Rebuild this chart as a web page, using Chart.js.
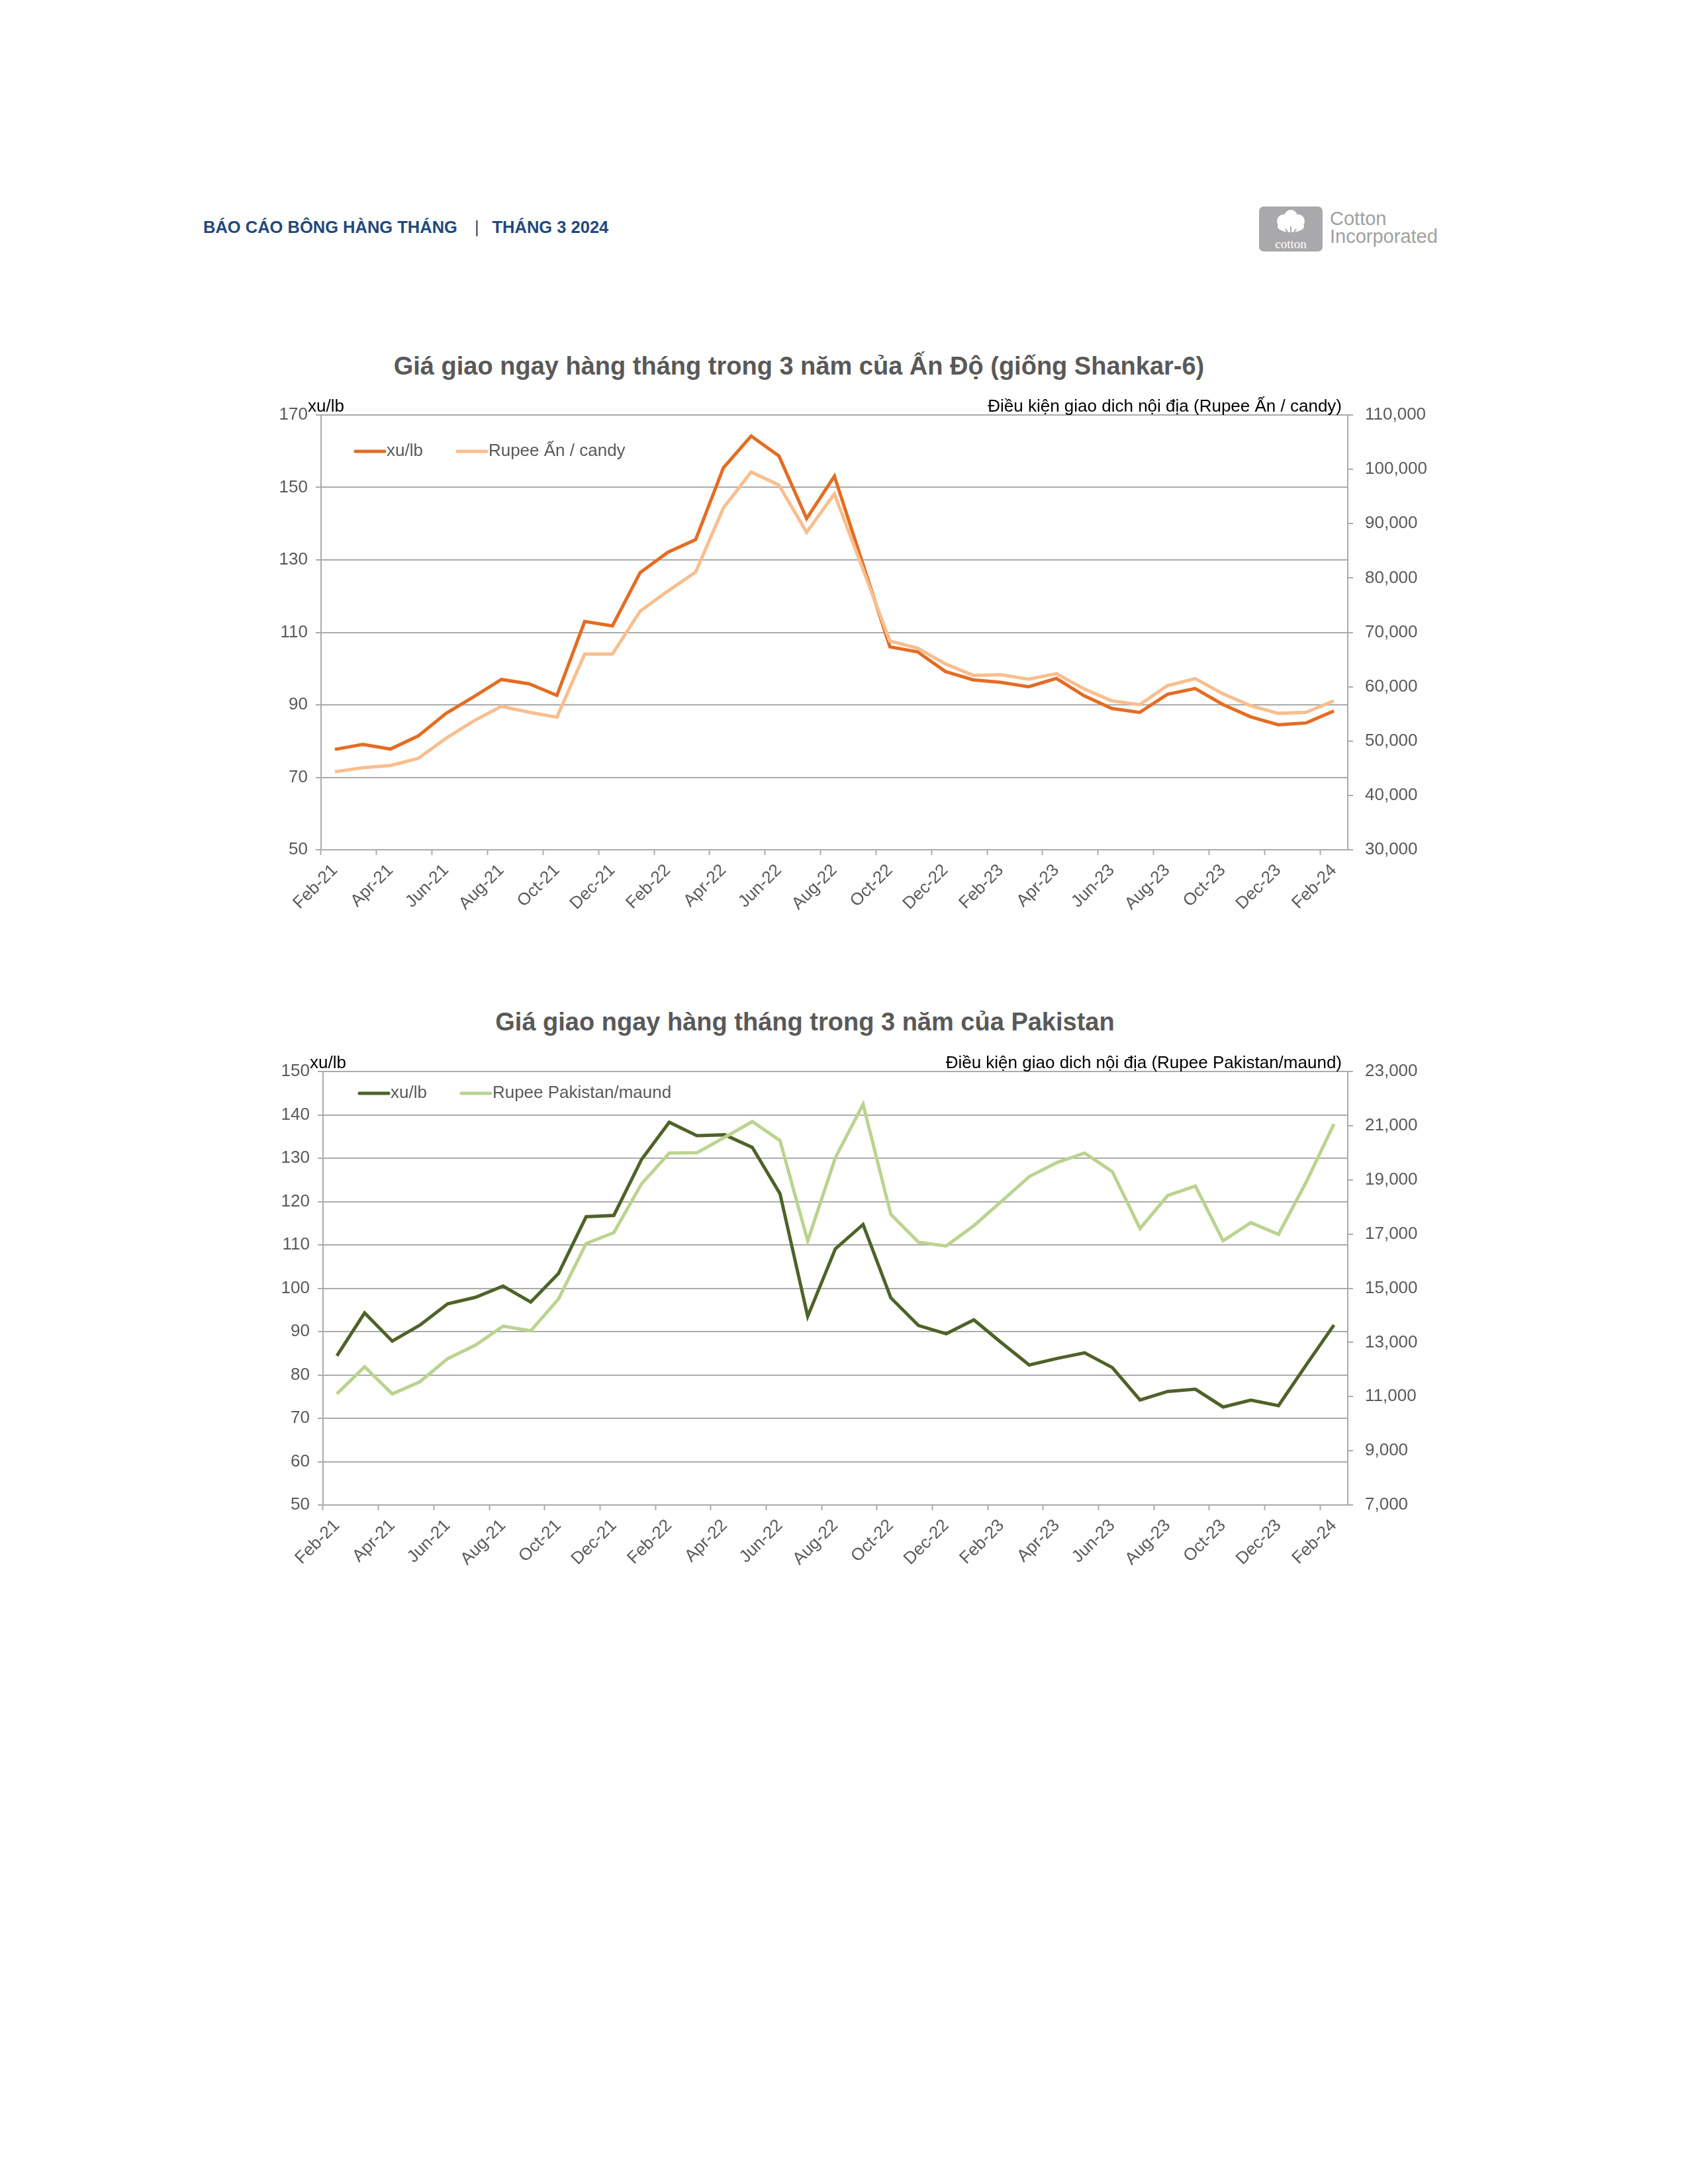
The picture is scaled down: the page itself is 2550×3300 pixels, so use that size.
<!DOCTYPE html>
<html lang="vi">
<head>
<meta charset="utf-8">
<title>Giá giao ngay hàng tháng – Ấn Độ &amp; Pakistan</title>
<script src="https://cdn.jsdelivr.net/npm/chart.js@4.4.1/dist/chart.umd.min.js"></script>
<style>
  html,body{margin:0;padding:0;background:#fff;}
  body{width:2550px;height:3300px;position:relative;font-family:'Liberation Sans',Arial,sans-serif;}
  .header{position:absolute;left:307px;top:329px;font-size:25.5px;font-weight:bold;color:#1F497D;white-space:nowrap;}
  .header .sep{font-weight:normal;margin:0 20px 0 26px;}
  .logo{position:absolute;left:1902px;top:312px;}
  .logo-text{position:absolute;left:2009px;top:317px;color:#A0A0A0;font-size:29px;line-height:27px;white-space:nowrap;}
  .title{position:absolute;transform:translateX(-50%);font-size:38px;font-weight:bold;color:#595959;white-space:nowrap;}
  .box{position:absolute;left:380px;width:1820px;height:880px;}
</style>
</head>
<body>

<div class="header">BÁO CÁO BÔNG HÀNG THÁNG<span class="sep">|</span>THÁNG 3 2024</div>

<svg class="logo" width="96" height="68" viewBox="0 0 96 68">
  <rect width="96" height="68" rx="7" fill="#A9A9AB"/>
  <circle cx="37" cy="22" r="10" fill="#fff"/>
  <circle cx="48" cy="15" r="10" fill="#fff"/>
  <circle cx="59" cy="22" r="10" fill="#fff"/>
  <ellipse cx="48" cy="30" rx="20" ry="9" fill="#fff"/>
  <path d="M48 30 V48 M40 34 L47 45 M56 34 L49 45" stroke="#A9A9AB" stroke-width="2" fill="none"/>
  <text x="48" y="63" text-anchor="middle" font-size="19" fill="#fff" font-family="'Liberation Serif',serif">cotton</text>
</svg>
<div class="logo-text">Cotton<br>Incorporated</div>

<div class="title" style="left:1207px;top:532px;">Giá giao ngay hàng tháng trong 3 năm của Ấn Độ (giống Shankar-6)</div>
<div class="box" style="top:560px;"><canvas id="indiaChart"></canvas></div>

<div class="title" style="left:1216px;top:1523px;">Giá giao ngay hàng tháng trong 3 năm của Pakistan</div>
<div class="box" style="top:1550px;"><canvas id="pakChart"></canvas></div>

<script>
// ====== dados ======
const months = ["Feb-21","Mar-21","Apr-21","May-21","Jun-21","Jul-21","Aug-21","Sep-21","Oct-21","Nov-21","Dec-21",
  "Jan-22","Feb-22","Mar-22","Apr-22","May-22","Jun-22","Jul-22","Aug-22","Sep-22","Oct-22","Nov-22","Dec-22",
  "Jan-23","Feb-23","Mar-23","Apr-23","May-23","Jun-23","Jul-23","Aug-23","Sep-23","Oct-23","Nov-23","Dec-23",
  "Jan-24","Feb-24"];

// Ấn Độ (Shankar-6)
const indiaCents = [77.7, 79.1, 77.8, 81.4, 87.6, 92.2, 97.0, 95.8, 92.6, 113.0, 111.8,
  126.5, 132.1, 135.6, 155.4, 164.2, 158.7, 141.4, 153.1, 129.5, 106.0, 104.6, 99.2,
  96.9, 96.2, 95.0, 97.3, 92.5, 89.0, 87.9, 92.9, 94.5, 90.1, 86.7, 84.5,
  85.0, 88.3];
const indiaRupee = [44350, 45100, 45500, 46800, 50500, 53700, 56400, 55300, 54400, 66000, 66000,
  73900, 77600, 81100, 92900, 99500, 97100, 88400, 95500, 82000, 68400, 67100, 64200,
  62100, 62200, 61400, 62400, 59600, 57400, 56700, 60200, 61500, 58700, 56500, 55100,
  55300, 57400];

// Pakistan
const pakCents = [84.4, 94.3, 87.8, 91.5, 96.4, 97.9, 100.5, 96.8, 103.4, 116.5, 116.8,
  129.7, 138.3, 135.2, 135.4, 132.5, 121.8, 93.5, 109.1, 114.7, 97.8, 91.4, 89.5,
  92.7, 87.4, 82.3, 83.8, 85.1, 81.7, 74.2, 76.2, 76.7, 72.6, 74.2, 72.9,
  82.3, 91.5];
const pakRupee = [11100, 12100, 11100, 11550, 12400, 12900, 13600, 13430, 14600, 16650, 17050,
  18850, 19990, 20000, 20570, 21150, 20450, 16750, 19820, 21790, 17730, 16700, 16560,
  17310, 18210, 19120, 19640, 19990, 19300, 17200, 18420, 18770, 16750, 17420, 16990,
  18920, 21060];

// eixos
const indiaLeft  = {min: 50, max: 170, step: 20};
const indiaRight = {min: 30000, max: 110000, step: 10000};
const pakLeft    = {min: 50, max: 150, step: 10};
const pakRight   = {min: 7000, max: 23000, step: 2000};

// ====== helpers ======
const FONT = "'Liberation Sans', Arial, sans-serif";
const FS = 26;
const gridColor = '#ABABAB';
const num = v => v.toLocaleString('en-US');

Chart.defaults.font.family = FONT;
Chart.defaults.font.size = FS;
Chart.defaults.color = '#595959';

// legenda dentro da área do gráfico + títulos dos eixos
const insideLegend = {
  id: 'insideLegend',
  afterDraw(chart, args, o) {
    const {ctx, chartArea: a} = chart;
    ctx.save();
    ctx.font = `${FS}px ${FONT}`;
    ctx.fillStyle = '#000';
    ctx.textBaseline = 'alphabetic';
    ctx.textAlign = 'left';
    ctx.fillText(o.leftUnit, a.left - 20, a.top - 5);
    ctx.textAlign = 'right';
    ctx.fillText(o.rightUnit, a.right - 9, a.top - 5);

    let x = a.left + o.x;
    const y = a.top + o.y;
    ctx.textAlign = 'left';
    ctx.textBaseline = 'middle';
    chart.data.datasets.forEach(ds => {
      ctx.strokeStyle = ds.borderColor;
      ctx.lineWidth = 5;
      ctx.lineCap = 'round';
      ctx.beginPath(); ctx.moveTo(x, y); ctx.lineTo(x + 44, y); ctx.stroke();
      ctx.fillStyle = '#595959';
      ctx.fillText(ds.label, x + 47, y);
      x += 47 + ctx.measureText(ds.label).width + 52;
    });
    ctx.restore();
  }
};

function makeChart(id, c) {
  return new Chart(document.getElementById(id), {
    type: 'line',
    data: {
      labels: months,
      datasets: [
        { label: 'xu/lb', data: c.cents, yAxisID: 'y', borderColor: c.dark, backgroundColor: c.dark,
          borderWidth: 5, pointRadius: 0, tension: 0, order: 1 },
        { label: c.rupeeLabel, data: c.rupee, yAxisID: 'y2', borderColor: c.light, backgroundColor: c.light,
          borderWidth: 5, pointRadius: 0, tension: 0, order: 0 }
      ]
    },
    options: {
      responsive: true,
      maintainAspectRatio: false,
      animation: false,
      layout: { padding: { top: c.padTop, left: 0, right: 0, bottom: 0 } },
      scales: {
        x: {
          offset: true,
          grid: {
            offset: true, drawOnChartArea: false, tickLength: 8, tickWidth: 2,
            tickColor: t => (t.index !== undefined && t.index % 2 === 0) ? gridColor : 'transparent'
          },
          border: { display: true, color: gridColor, width: 2 },
          ticks: {
            autoSkip: false, maxRotation: 45, minRotation: 45, padding: 8,
            callback: (v, i) => i % 2 === 0 ? months[i] : ''
          },
          afterFit: s => { s.height = 156; }
        },
        y: {
          position: 'left', min: c.left.min, max: c.left.max,
          ticks: { stepSize: c.left.step, padding: 12 },
          grid: { color: gridColor, lineWidth: 2, tickLength: 8 },
          border: { display: true, color: gridColor, width: 2 },
          afterFit: s => { s.width = c.leftW; }
        },
        y2: {
          position: 'right', min: c.right.min, max: c.right.max,
          ticks: { stepSize: c.right.step, padding: 18, callback: v => num(v) },
          grid: { drawOnChartArea: false, color: gridColor, lineWidth: 2, tickLength: 8 },
          border: { display: true, color: gridColor, width: 2 },
          afterFit: s => { s.width = 164; }
        }
      },
      plugins: {
        legend: { display: false },
        tooltip: { enabled: false },
        insideLegend: { leftUnit: 'xu/lb', rightUnit: c.rightUnit, x: c.legX, y: c.legY }
      }
    },
    plugins: [insideLegend]
  });
}

// ====== Chart 1: Ấn Độ ======
makeChart('indiaChart', {
  cents: indiaCents, rupee: indiaRupee,
  dark: '#E46C23', light: '#F9BE8E',
  rupeeLabel: 'Rupee Ấn / candy',
  rightUnit: 'Điều kiện giao dich nội địa (Rupee Ấn / candy)',
  left: indiaLeft, right: indiaRight,
  padTop: 67, leftW: 105, legX: 52, legY: 55
});

// ====== Chart 2: Pakistan ======
makeChart('pakChart', {
  cents: pakCents, rupee: pakRupee,
  dark: '#4F6228', light: '#BBD390',
  rupeeLabel: 'Rupee Pakistan/maund',
  rightUnit: 'Điều kiện giao dich nội địa (Rupee Pakistan/maund)',
  left: pakLeft, right: pakRight,
  padTop: 69, leftW: 108, legX: 55, legY: 33
});
</script>
</body>
</html>
